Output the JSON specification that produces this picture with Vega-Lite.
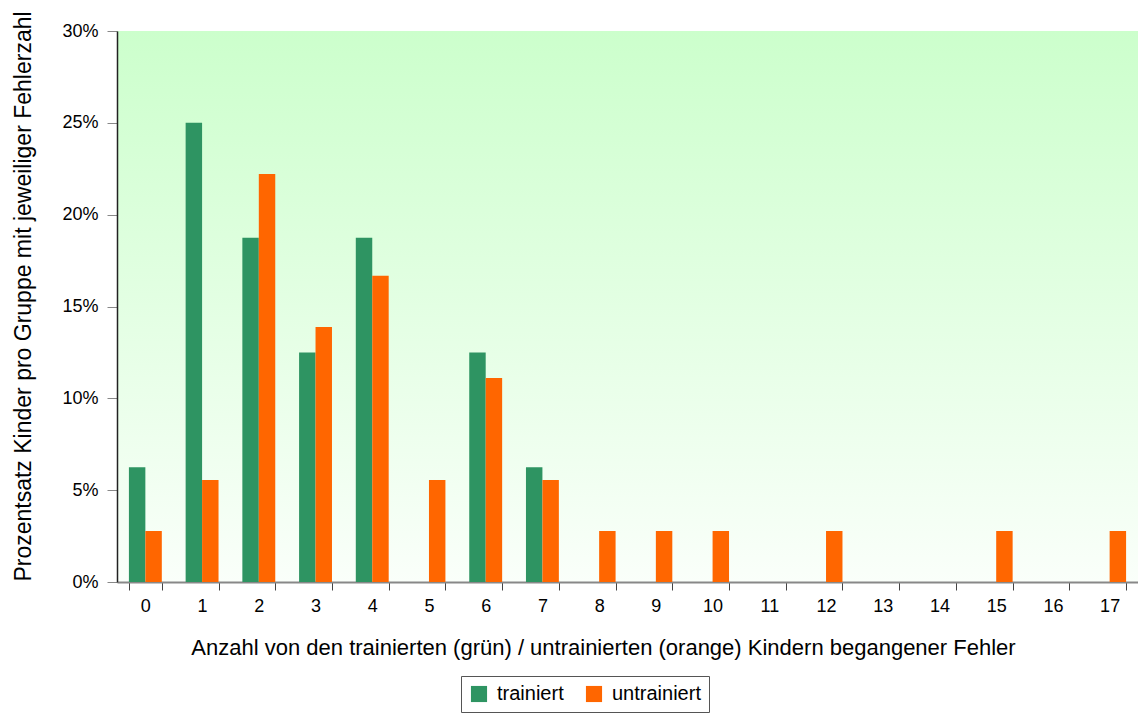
{
  "$schema": "https://vega.github.io/schema/vega-lite/v6.json",
  "width": 1021,
  "height": 551,
  "autosize": {"type": "none"},
  "padding": {"left": 117, "top": 31, "right": 0, "bottom": 131},
  "background": "white",
  "config": {
    "font": "Liberation Sans",
    "view": {
      "stroke": null,
      "fill": {
        "gradient": "linear",
        "x1": 0, "y1": 0, "x2": 0, "y2": 1,
        "stops": [
          {"offset": 0, "color": "#CCFFCC"},
          {"offset": 1, "color": "#FAFFFA"}
        ]
      }
    }
  },
  "data": {
    "values": [
      {"fehler": 0, "gruppe": "trainiert", "prozent": 6.25},
      {"fehler": 0, "gruppe": "untrainiert", "prozent": 2.78},
      {"fehler": 1, "gruppe": "trainiert", "prozent": 25},
      {"fehler": 1, "gruppe": "untrainiert", "prozent": 5.56},
      {"fehler": 2, "gruppe": "trainiert", "prozent": 18.75},
      {"fehler": 2, "gruppe": "untrainiert", "prozent": 22.22},
      {"fehler": 3, "gruppe": "trainiert", "prozent": 12.5},
      {"fehler": 3, "gruppe": "untrainiert", "prozent": 13.89},
      {"fehler": 4, "gruppe": "trainiert", "prozent": 18.75},
      {"fehler": 4, "gruppe": "untrainiert", "prozent": 16.67},
      {"fehler": 5, "gruppe": "trainiert", "prozent": 0},
      {"fehler": 5, "gruppe": "untrainiert", "prozent": 5.56},
      {"fehler": 6, "gruppe": "trainiert", "prozent": 12.5},
      {"fehler": 6, "gruppe": "untrainiert", "prozent": 11.11},
      {"fehler": 7, "gruppe": "trainiert", "prozent": 6.25},
      {"fehler": 7, "gruppe": "untrainiert", "prozent": 5.56},
      {"fehler": 8, "gruppe": "trainiert", "prozent": 0},
      {"fehler": 8, "gruppe": "untrainiert", "prozent": 2.78},
      {"fehler": 9, "gruppe": "trainiert", "prozent": 0},
      {"fehler": 9, "gruppe": "untrainiert", "prozent": 2.78},
      {"fehler": 10, "gruppe": "trainiert", "prozent": 0},
      {"fehler": 10, "gruppe": "untrainiert", "prozent": 2.78},
      {"fehler": 11, "gruppe": "trainiert", "prozent": 0},
      {"fehler": 11, "gruppe": "untrainiert", "prozent": 0},
      {"fehler": 12, "gruppe": "trainiert", "prozent": 0},
      {"fehler": 12, "gruppe": "untrainiert", "prozent": 2.78},
      {"fehler": 13, "gruppe": "trainiert", "prozent": 0},
      {"fehler": 13, "gruppe": "untrainiert", "prozent": 0},
      {"fehler": 14, "gruppe": "trainiert", "prozent": 0},
      {"fehler": 14, "gruppe": "untrainiert", "prozent": 0},
      {"fehler": 15, "gruppe": "trainiert", "prozent": 0},
      {"fehler": 15, "gruppe": "untrainiert", "prozent": 2.78},
      {"fehler": 16, "gruppe": "trainiert", "prozent": 0},
      {"fehler": 16, "gruppe": "untrainiert", "prozent": 0},
      {"fehler": 17, "gruppe": "trainiert", "prozent": 0},
      {"fehler": 17, "gruppe": "untrainiert", "prozent": 2.78}
    ]
  },
  "mark": {"type": "bar"},
  "encoding": {
    "x": {
      "field": "fehler",
      "type": "ordinal",
      "scale": {"paddingInner": 0.42, "paddingOuter": 0.21},
      "axis": {
        "title": "Anzahl von den trainierten (grün) / untrainierten (orange) Kindern begangener Fehler",
        "titleFontSize": 22,
        "titleFontWeight": "normal",
        "titleColor": "#000000",
        "titlePadding": 22,
        "titleX": 486,
        "titleAlign": "center",
        "labelAngle": 0,
        "labelFontSize": 18,
        "labelColor": "#000000",
        "labelPadding": 7,
        "tickBand": "extent",
        "tickSize": 8,
        "tickColor": "#444444",
        "domainColor": "#888888",
        "domainWidth": 2,
        "grid": false
      }
    },
    "xOffset": {"field": "gruppe", "type": "nominal", "scale": {"paddingInner": 0, "paddingOuter": 0}},
    "y": {
      "field": "prozent",
      "type": "quantitative",
      "scale": {"domain": [0, 30], "nice": false},
      "axis": {
        "title": "Prozentsatz Kinder pro Gruppe mit jeweiliger Fehlerzahl",
        "titleFontSize": 23,
        "titleFontWeight": "normal",
        "titleColor": "#000000",
        "titlePadding": 26,
        "titleY": 265,
        "titleAlign": "center",
        "values": [0, 5, 10, 15, 20, 25, 30],
        "labelExpr": "datum.value + '%'",
        "labelFontSize": 18,
        "labelColor": "#000000",
        "labelPadding": 9,
        "tickSize": 10,
        "tickColor": "#888888",
        "domainColor": "#222222",
        "domainWidth": 1.5,
        "grid": false
      }
    },
    "color": {
      "field": "gruppe",
      "type": "nominal",
      "scale": {"domain": ["trainiert", "untrainiert"], "range": ["#2E9462", "#FF6600"]},
      "legend": {
        "title": null,
        "orient": "none",
        "legendX": 344,
        "legendY": 645,
        "direction": "horizontal",
        "symbolType": "square",
        "symbolSize": 260,
        "symbolStrokeWidth": 0,
        "labelFontSize": 20,
        "labelColor": "#000000",
        "labelOffset": 8,
        "columnPadding": 20,
        "strokeColor": "#555555",
        "padding": 8,
        "fillColor": "white"
      }
    }
  }
}
